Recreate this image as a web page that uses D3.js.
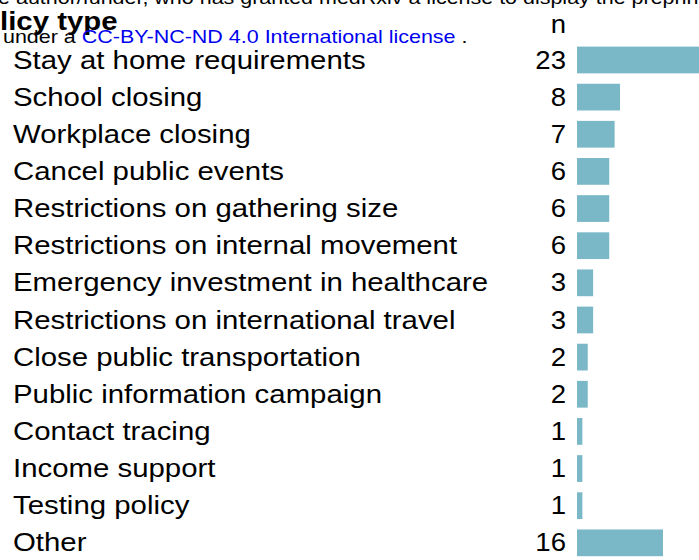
<!DOCTYPE html>
<html>
<head>
<meta charset="utf-8">
<script src="https://cdn.jsdelivr.net/npm/d3@7"></script>
<style>
  html, body { margin: 0; padding: 0; background: #fff; overflow: hidden; }
  text { font-family: Arial, "Liberation Sans", sans-serif; }
</style>
</head>
<body>
<svg id="chart" width="699" height="560"></svg>
<script>
// policy types and number of studies
const policies = [
  'Stay at home requirements', 'School closing', 'Workplace closing',
  'Cancel public events', 'Restrictions on gathering size',
  'Restrictions on internal movement', 'Emergency investment in healthcare',
  'Restrictions on international travel', 'Close public transportation',
  'Public information campaign', 'Contact tracing', 'Income support',
  'Testing policy', 'Other'
];
const counts = [23, 8, 7, 6, 6, 6, 3, 3, 2, 2, 1, 1, 1, 16];

const topLine = 'is the author/funder, who has granted medRxiv a license to display the preprint in perpetuity.';
const topPrefix = 'is the ';

// the source picture is a bit wider than plain Arial
const stretch = 1.13;

const svg = d3.select('#chart');

// helper: group at (x0,0) stretched horizontally
function wide(x0, k) {
  return svg.append('g').attr('transform', `translate(${x0},0) scale(${k || stretch},1)`);
}

// header / cropped preprint footer
const meas = svg.append('text').attr('font-size', 19).text(topPrefix);
const prefixW = meas.node().getComputedTextLength();
meas.remove();
wide(10).append('text')
  .attr('x', -prefixW).attr('y', 4)
  .attr('font-size', 19).attr('fill', '#000')
  .text(topLine);

const bm = svg.append('text').attr('font-size', 26).attr('font-weight', 'bold').text('Po');
const poW = bm.node().getComputedTextLength();
bm.remove();
wide(0).append('text')
  .attr('x', -poW).attr('y', 30)
  .attr('font-size', 26).attr('font-weight', 'bold')
  .text('Policy type');

const lic = wide(3).append('text').attr('x', 0).attr('y', 43).attr('font-size', 19);
lic.append('tspan').attr('fill', '#000').text('under a ');
lic.append('tspan').attr('fill', '#0000ee').text('CC-BY-NC-ND 4.0 International license');
lic.append('tspan').attr('fill', '#000').text(' .');

wide(566, 1.06).append('text')
  .attr('x', 0).attr('y', 33)
  .attr('text-anchor', 'end').attr('font-size', 26)
  .text('n');

// scales
const y = d3.scaleBand()
  .domain(policies)
  .range([41.4, 561.4])
  .paddingInner(0.28).paddingOuter(0.14);
const x = d3.scaleLinear().domain([0, 23]).range([577, 700.6]);

const labels = wide(13);
labels.selectAll('text')
  .data(policies)
  .enter().append('text')
  .attr('x', 0)
  .attr('y', d => y(d) + y.bandwidth() / 2)
  .attr('dy', '0.33em')
  .attr('font-size', 26)
  .text(d => d);

const nums = wide(566, 1.06);
nums.selectAll('text')
  .data(policies)
  .enter().append('text')
  .attr('x', 0)
  .attr('y', d => y(d) + y.bandwidth() / 2)
  .attr('dy', '0.33em')
  .attr('text-anchor', 'end')
  .attr('font-size', 26)
  .text((d, i) => counts[i]);

svg.selectAll('.bar')
  .data(policies)
  .enter().append('rect')
  .attr('class', 'bar')
  .attr('x', x(0))
  .attr('y', d => y(d))
  .attr('height', y.bandwidth())
  .attr('width', (d, i) => x(counts[i]) - x(0))
  .attr('fill', '#7ab7c7');
</script>
</body>
</html>
